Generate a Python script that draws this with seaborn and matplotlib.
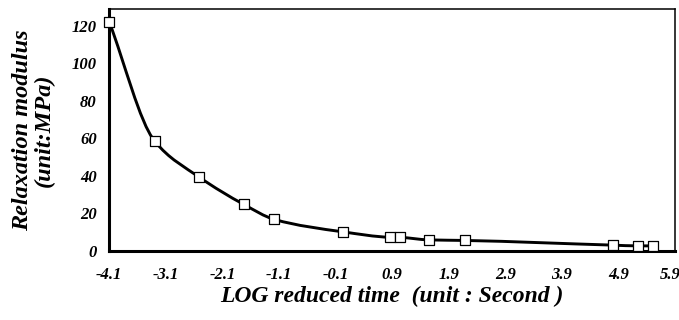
import matplotlib
matplotlib.use("Agg")
import matplotlib.pyplot as plt
from matplotlib.path import Path
from matplotlib.patches import PathPatch
from matplotlib.transforms import ScaledTranslation
import seaborn as sns
import pandas as pd
import numpy as np

# data
log_time = [-4.1, -3.3, -2.51, -1.72, -1.18, 0.03, 0.86, 1.04, 1.55, 2.18, 4.80, 5.25, 5.51]
modulus = [122.0, 58.5, 39.2, 24.6, 16.6, 10.0, 7.1, 7.0, 5.7, 5.4, 2.9, 2.5, 2.5]
x_ticks = [-4.1, -3.1, -2.1, -1.1, -0.1, 0.9, 1.9, 2.9, 3.9, 4.9, 5.9]
x_tick_labels = ["-4.1", "-3.1", "-2.1", "-1.1", "-0.1", "0.9", "1.9", "2.9", "3.9", "4.9", "5.9"]
y_ticks = [0, 20, 40, 60, 80, 100, 120]
y_tick_labels = ["0", "20", "40", "60", "80", "100", "120"]

sns.set_style("white", {"text.color": "black", "axes.labelcolor": "black",
                        "xtick.color": "black", "ytick.color": "black",
                        "axes.edgecolor": "black"})
plt.rcParams['font.family'] = ['Liberation Serif', 'DejaVu Serif']
plt.rcParams['axes.unicode_minus'] = False


def smooth_path(x, y):
    """monotone cubic (Fritsch-Carlson) tangents -> bezier path"""
    x = np.asarray(x, float)
    y = np.asarray(y, float)
    h = np.diff(x)
    d = np.diff(y) / h
    m = np.zeros_like(y)
    m[0], m[-1] = d[0], d[-1]
    for i in range(1, len(x) - 1):
        if d[i - 1] * d[i] <= 0:
            m[i] = 0
        else:
            w1 = 2 * h[i] + h[i - 1]
            w2 = h[i] + 2 * h[i - 1]
            m[i] = (w1 + w2) / (w1 / d[i - 1] + w2 / d[i])
    verts = [(x[0], y[0])]
    codes = [Path.MOVETO]
    for i in range(len(x) - 1):
        verts += [(x[i] + h[i] / 3, y[i] + m[i] * h[i] / 3),
                  (x[i + 1] - h[i] / 3, y[i + 1] - m[i + 1] * h[i] / 3),
                  (x[i + 1], y[i + 1])]
        codes += [Path.CURVE4] * 3
    return Path(verts, codes)


df = pd.DataFrame({"log_time": log_time, "modulus": modulus})

fig = plt.figure(figsize=(6.79, 3.2), dpi=100)
ax = fig.add_axes([0.161, 0.217, 0.833, 0.755])

ax.add_patch(PathPatch(smooth_path(log_time, modulus), facecolor="none",
                       edgecolor="black", lw=2.1, zorder=2))
sns.scatterplot(data=df, x="log_time", y="modulus", marker="s", s=62,
                facecolor="white", edgecolor="black", linewidth=0.9,
                ax=ax, zorder=3, legend=False, clip_on=False)

ax.set_xlim(-4.1, 5.9)
ax.set_ylim(0, 129)
ax.set_xticks(x_ticks, x_tick_labels)
ax.set_yticks(y_ticks, y_tick_labels)

tick_font = dict(family=['Liberation Serif'], weight='bold', style='italic', size=12)
for lab in ax.get_xticklabels() + ax.get_yticklabels():
    lab.set_fontproperties(matplotlib.font_manager.FontProperties(**tick_font))

ax.tick_params(axis='x', direction='in', length=5, width=1.5, pad=12)
ax.tick_params(axis='y', direction='in', length=5, width=1.5, pad=9)

# pull the last x label in so it stays inside the figure
last = ax.get_xticklabels()[-1]
last.set_transform(last.get_transform() + ScaledTranslation(-5 / 100, 0, fig.dpi_scale_trans))

for side in ['left', 'bottom']:
    ax.spines[side].set_linewidth(2.2)
for side in ['top', 'right']:
    ax.spines[side].set_linewidth(1.1)

ax.set_xlabel("LOG reduced time  (unit : Second )", fontsize=17, weight='bold',
              style='italic', labelpad=2)
ax.set_ylabel("Relaxation modulus\n(unit:MPa)", fontsize=17.5, weight='bold',
              style='italic', labelpad=12, linespacing=1.05)

fig.savefig("out.png", dpi=100)
